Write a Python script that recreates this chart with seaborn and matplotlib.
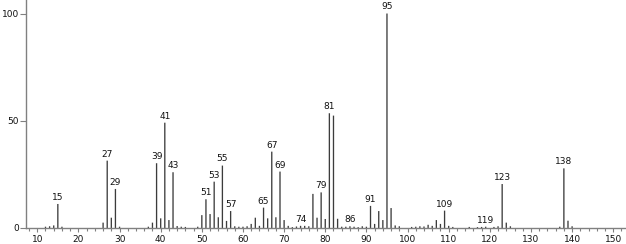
import matplotlib
matplotlib.use("Agg")
import matplotlib.pyplot as plt
from matplotlib.ticker import MultipleLocator
import seaborn as sns
import pandas as pd

mz = [12, 13, 14, 15, 16, 26, 27, 28, 29, 30, 37, 38, 39, 40, 41, 42, 43, 44, 45, 46,
      49, 50, 51, 52, 53, 54, 55, 56, 57, 58, 59, 60, 61, 62, 63, 64, 65, 66, 67, 68,
      69, 70, 71, 72, 73, 74, 75, 76, 77, 78, 79, 80, 81, 82, 83, 84, 85, 86, 87, 88,
      89, 90, 91, 92, 93, 94, 95, 96, 97, 98, 101, 102, 103, 104, 105, 106, 107, 108,
      109, 110, 111, 115, 117, 118, 119, 121, 122, 123, 124, 125, 137, 138, 139, 140]
intensity = [0.6, 0.8, 1.2, 11.2, 0.6, 2.5, 31.4, 4.8, 18.2, 0.6, 0.6, 2.5, 30.2, 4.5, 49.1, 3.7, 26.0, 0.9, 0.6, 0.5,
             0.6, 6.0, 13.4, 6.5, 21.6, 5.0, 29.1, 3.3, 7.9, 0.8, 0.6, 0.6, 0.8, 1.9, 4.8, 1.0, 9.5, 4.5, 35.6, 5.0,
             26.3, 3.7, 1.0, 0.4, 0.7, 1.0, 1.0, 0.8, 15.9, 4.8, 16.6, 4.2, 53.5, 52.4, 4.3, 0.6, 0.6, 0.8, 0.6, 0.4,
             0.8, 0.6, 10.3, 1.9, 7.9, 3.7, 100.0, 9.3, 1.2, 0.8, 0.5, 0.6, 0.8, 0.7, 1.5, 1.0, 3.7, 1.9,
             8.1, 1.0, 0.5, 0.5, 0.4, 0.5, 0.6, 0.5, 0.8, 20.5, 2.5, 0.8, 0.6, 27.8, 3.4, 0.8]
labeled_peaks = [15, 27, 29, 39, 41, 43, 51, 53, 55, 57, 65, 67, 69, 74, 79, 81, 86, 91,
                 95, 109, 119, 123, 138]
x_ticks = list(range(10, 151, 10))
y_ticks = [0, 50, 100]

sns.set_theme(style="ticks")
plt.rcParams["font.family"] = ["DejaVu Sans"]

df = pd.DataFrame({"mz": mz, "intensity": intensity})

fig = plt.figure(figsize=(6.26, 2.44), dpi=100)
ax = fig.add_axes([0.041, 0.0656, 0.959, 0.9344])

sns.barplot(data=df, x="mz", y="intensity", native_scale=True, width=0.32,
            color="#3c3c3c", saturation=1, linewidth=0, errorbar=None, ax=ax)
for patch in ax.patches:
    patch.set_snap(False)
    patch.set_antialiased(True)

lookup = dict(zip(mz, intensity))
for p in labeled_peaks:
    ax.annotate(str(p), (p, lookup[p]), xytext=(0, 1.5), textcoords="offset points",
                ha="center", va="bottom", fontsize=6.5, color="#111111")

ax.set_xlim(7.18, 153.1)
ax.set_ylim(0, 106.3)
ax.set_xticks(x_ticks)
ax.set_xticklabels([str(t) for t in x_ticks])
ax.xaxis.set_minor_locator(MultipleLocator(2))
ax.set_yticks(y_ticks)
ax.set_yticklabels([str(t) for t in y_ticks])
ax.set_xlabel("")
ax.set_ylabel("")

for s in ["top", "right"]:
    ax.spines[s].set_visible(False)
for s in ["left", "bottom"]:
    ax.spines[s].set_color("#808080")
    ax.spines[s].set_linewidth(1.0)

ax.tick_params(axis="x", which="major", length=3, width=0.8, color="#808080",
               labelsize=6.5, pad=2, labelcolor="#111111")
ax.tick_params(axis="x", which="minor", length=2, width=0.8, color="#808080")
ax.tick_params(axis="y", which="major", length=4, width=0.8, color="#808080",
               labelsize=6.5, pad=1, labelcolor="#111111")

fig.savefig("out.png", dpi=100)
